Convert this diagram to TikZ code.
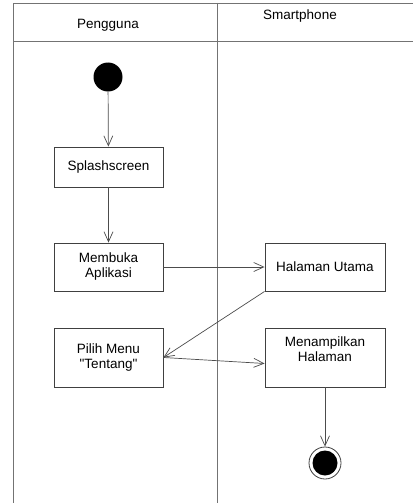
\documentclass[tikz,border=0pt]{standalone}
\usepackage{fontspec}
\setmainfont{Liberation Sans}[Ligatures=TeXOff]
\usetikzlibrary{arrows.meta}
\begin{document}
\begin{tikzpicture}[x=1pt,y=-1pt,
  lane/.style={draw=black!55,line width=0.9pt},
  act/.style={draw=black!75,line width=0.9pt,fill=white,minimum width=109pt,align=center,font=\fontsize{13.5}{15}\selectfont,inner sep=0pt},
  flow/.style={draw=black!70,line width=0.7pt,-{Straight Barb[length=10pt,width=9pt]}},
  hdr/.style={font=\fontsize{13.5}{15}\selectfont,inner sep=0pt}]
\useasboundingbox (0,0) rectangle (413,503);
\fill[white] (0,0) rectangle (413,503);
% swimlanes
\draw[lane] (13,503) -- (13,3) -- (413,3);
\draw[lane] (217,3) -- (217,503);
\draw[lane] (13,41) -- (413,41);
\node[hdr] (h1) at (108,25) {Pengguna};
\node[hdr] (h2) at (300,16) {Smartphone};
% nodes
\node[circle,fill=black,minimum size=29pt,inner sep=0pt] (start) at (108,77) {};
\node[act,minimum height=40pt] (splash) at (108.5,167) {Splashscreen};
\node[act,minimum height=48pt] (buka) at (108.5,267) {Membuka\\Aplikasi};
\node[act,minimum width=120pt,minimum height=48pt] (utama) at (325,267) {Halaman Utama};
\node[act,minimum height=59pt] (pilih) at (108.5,357.5) {Pilih Menu\\"Tentang"};
\node[act,minimum width=120pt,minimum height=59pt] (tampil) at (325,357.5) {Menampilkan\\Halaman\\[2pt]};
\node[circle,draw=black!75,line width=0.8pt,minimum size=32pt,inner sep=0pt] (end) at (325,463) {};
\node[circle,fill=black,minimum size=25pt,inner sep=0pt] (endin) at (end.center) {};
% flows
\draw[flow] (start) -- (splash);
\draw[flow] (splash) -- (buka);
\draw[flow] (buka) -- (utama);
\draw[flow] (utama.south west) -- (pilih.east);
\draw[flow] (pilih.east) -- ([yshift=-6pt]tampil.west);
\draw[flow] (tampil) -- (end);
\end{tikzpicture}
\end{document}
